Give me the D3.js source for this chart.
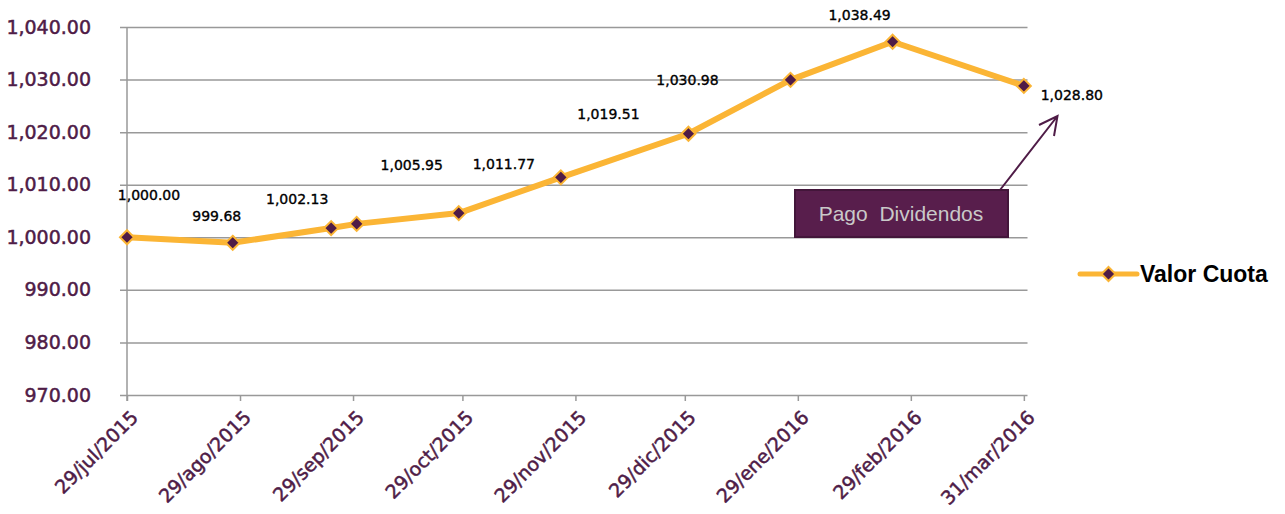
<!DOCTYPE html>
<html>
<head>
<meta charset="utf-8">
<script src="https://cdn.jsdelivr.net/npm/d3@7"></script>
<style>
  body { margin: 0; background: #fff; }
  svg { display: block; }
</style>
</head>
<body>
<div id="chart"></div>
<script>
// fecha de cada valor cuota
const pointDates = ["2015-07-29", "2015-08-27", "2015-09-23", "2015-09-30", "2015-10-28",
  "2015-11-25", "2015-12-30", "2016-01-27", "2016-02-24", "2016-03-31"];
const pointValues = [1000.00, 998.95, 1001.75, 1002.55, 1004.60,
  1011.40, 1019.70, 1029.95, 1037.20, 1028.80];

// etiquetas de datos y el punto al que pertenecen
const labelTexts = ["1,000.00", "999.68", "1,002.13", "1,005.95", "1,011.77",
  "1,019.51", "1,030.98", "1,038.49", "1,028.80"];
const labelPoint = [0, 1, 2, 4, 5, 6, 7, 8, 9];

// eje x
const tickDates = ["2015-07-29", "2015-08-29", "2015-09-29", "2015-10-29", "2015-11-29",
  "2015-12-29", "2016-01-29", "2016-02-29", "2016-03-31"];
const tickLabels = ["29/jul/2015", "29/ago/2015", "29/sep/2015", "29/oct/2015", "29/nov/2015",
  "29/dic/2015", "29/ene/2016", "29/feb/2016", "31/mar/2016"];
// eje y
const yTicks = [970, 980, 990, 1000, 1010, 1020, 1030, 1040];

const seriesName = "Valor Cuota";
const noteText = "Pago  Dividendos";

const parseDate = d3.timeParse("%Y-%m-%d");
const purple = "#4f1c47";
const gold = "#fbb535";

const width = 1285, height = 514;
const margin = { left: 127, right: 1027.5, top: 27, bottom: 395 };

const svg = d3.select("#chart").append("svg")
  .attr("width", width)
  .attr("height", height);

const x = d3.scaleTime()
  .domain([parseDate("2015-07-29"), parseDate("2016-04-01")])
  .range([margin.left, margin.right]);

const y = d3.scaleLinear()
  .domain([970, 1040])
  .range([margin.bottom, margin.top]);

/* y axis + gridlines */
const yAxis = svg.append("g")
  .attr("transform", `translate(${margin.left},0)`)
  .call(d3.axisLeft(y).tickValues(yTicks).tickFormat(d3.format(",.2f"))
    .tickSize(-(margin.right - margin.left)));
yAxis.select(".domain").remove();
yAxis.selectAll(".tick line")
  .attr("x1", -7)
  .attr("stroke", "#999")
  .attr("stroke-width", 1.5);
yAxis.selectAll(".tick text")
  .attr("x", -36)
  .attr("fill", purple)
  .attr("stroke", purple)
  .attr("stroke-width", 0.5)
  .style("font-family", "DejaVu Sans")
  .style("font-size", "19px");

svg.append("line")
  .attr("x1", margin.left).attr("x2", margin.left)
  .attr("y1", margin.top).attr("y2", margin.bottom + 6)
  .attr("stroke", "#999")
  .attr("stroke-width", 1.5);

/* x axis */
const xAxis = svg.append("g")
  .attr("transform", `translate(0,${margin.bottom})`)
  .call(d3.axisBottom(x)
    .tickValues(tickDates.map(parseDate))
    .tickFormat((d, i) => tickLabels[i])
    .tickSize(6)
    .tickSizeOuter(0));
xAxis.select(".domain").remove();
xAxis.selectAll(".tick line")
  .attr("stroke", "#999")
  .attr("stroke-width", 1.5);
xAxis.selectAll(".tick text")
  .attr("fill", purple)
  .attr("stroke", purple)
  .attr("stroke-width", 0.5)
  .style("font-family", "DejaVu Sans")
  .style("font-size", "19px")
  .attr("text-anchor", "end")
  .attr("y", 0)
  .attr("dy", "0.35em")
  .attr("transform", "translate(7,19) rotate(-45)");

/* line + markers */
const data = pointDates.map((d, i) => ({ date: parseDate(d), value: pointValues[i] }));

const line = d3.line()
  .x(d => x(d.date))
  .y(d => y(d.value));

svg.append("path")
  .datum(data)
  .attr("d", line)
  .attr("fill", "none")
  .attr("stroke", gold)
  .attr("stroke-width", 6)
  .attr("stroke-linejoin", "round");

const diamond = d3.symbol(d3.symbolDiamond2, 125);

svg.selectAll(".marker")
  .data(data)
  .join("path")
  .attr("class", "marker")
  .attr("d", diamond)
  .attr("transform", d => `translate(${x(d.date)},${y(d.value)})`)
  .attr("fill", purple)
  .attr("stroke", gold)
  .attr("stroke-width", 2);

/* data labels (desplazados como en el original) */
const labelShift = [[22, -42], [-16, -27], [-34, -29], [-47, -48], [-57, -13],
  [-80, -20], [-103, 0], [-33, -27], [48, 9]];

svg.selectAll(".dlabel")
  .data(labelTexts)
  .join("text")
  .attr("class", "dlabel")
  .attr("x", (d, i) => x(data[labelPoint[i]].date) + labelShift[i][0])
  .attr("y", (d, i) => y(data[labelPoint[i]].value) + labelShift[i][1])
  .attr("dy", "0.35em")
  .attr("text-anchor", "middle")
  .style("font-family", "DejaVu Sans")
  .style("font-size", "14px")
  .attr("fill", "#000")
  .attr("stroke", "#000")
  .attr("stroke-width", 0.35)
  .text(d => d);

/* nota pago dividendos */
svg.append("path")
  .attr("d", "M1000,190 L1057.5,116 M1039,125 L1057.5,116 L1054,136")
  .attr("fill", "none")
  .attr("stroke", purple)
  .attr("stroke-width", 2);

svg.append("rect")
  .attr("x", 795).attr("y", 190)
  .attr("width", 213).attr("height", 47)
  .attr("fill", "#581e4c")
  .attr("stroke", "#43163a")
  .attr("stroke-width", 2);

svg.append("text")
  .attr("x", 901).attr("y", 214)
  .attr("dy", "0.35em")
  .attr("text-anchor", "middle")
  .style("font-family", "Liberation Sans")
  .style("font-size", "21px")
  .style("white-space", "pre")
  .attr("fill", "#c9c9c9")
  .text(noteText);

/* legend */
const lg = svg.append("g").attr("transform", "translate(1080,274)");
lg.append("line")
  .attr("x1", 0).attr("x2", 57)
  .attr("stroke", gold)
  .attr("stroke-width", 5)
  .attr("stroke-linecap", "round");
lg.append("path")
  .attr("d", diamond)
  .attr("transform", "translate(28.5,0)")
  .attr("fill", purple)
  .attr("stroke", gold)
  .attr("stroke-width", 2);
lg.append("text")
  .attr("x", 60)
  .attr("dy", "0.35em")
  .style("font-family", "Liberation Sans")
  .style("font-size", "23px")
  .style("font-weight", "bold")
  .attr("fill", "#000")
  .text(seriesName);
</script>
</body>
</html>
